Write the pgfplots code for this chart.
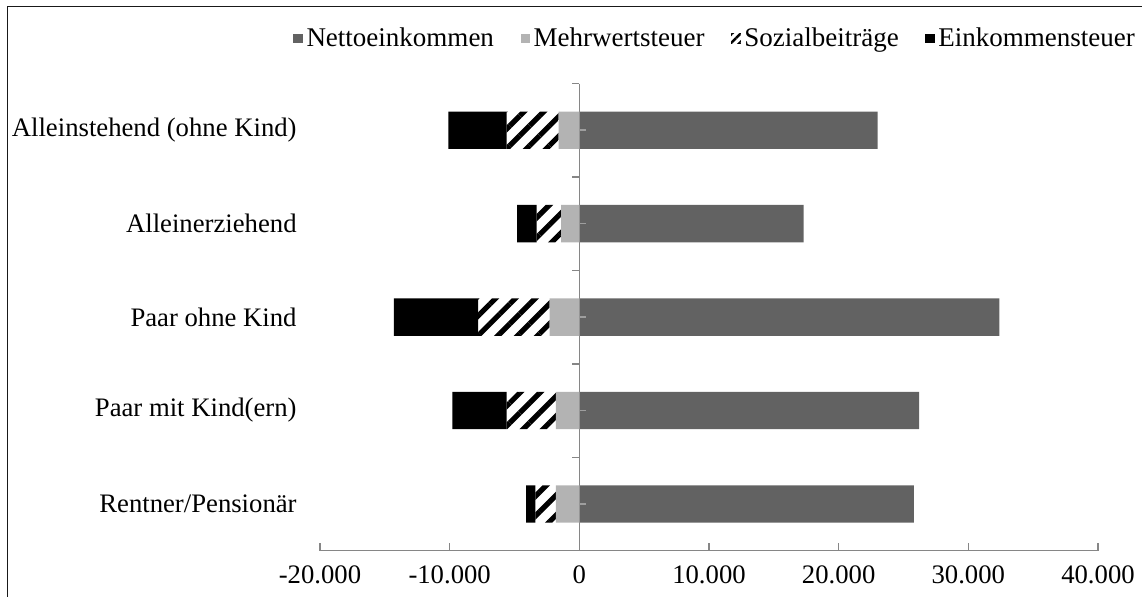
\documentclass[border=0pt]{standalone}
\usepackage{fontspec}
\setmainfont{Liberation Serif}
\usepackage{pgfplots}
\pgfplotsset{compat=1.18}
\usetikzlibrary{patterns.meta}
\definecolor{netto}{HTML}{626262}
\definecolor{mwst}{HTML}{B3B3B3}
\definecolor{axgray}{HTML}{868686}
\newcommand{\chartfont}{\fontsize{13.35}{16}\selectfont}
\newcommand{\legfont}{\fontsize{13.5}{16}\selectfont}
\pgfplotsset{base/.style={scale only axis, width=389pt, height=233.6pt,
  at={(160pt,22.65pt)}, anchor=south west,
  xmin=-20000, xmax=40000, ymin=-0.5, ymax=4.5}}
\begin{document}
\begin{tikzpicture}
\begin{axis}[base, xbar, bar width=0.4,
  axis x line*=bottom, axis y line*=left,
  y axis line style={draw=none},
  x axis line style={axgray, line width=0.75pt},
  xtick={-20000,-10000,0,10000,20000,30000,40000},
  xticklabels={-20.000,-10.000,0,10.000,20.000,30.000,40.000},
  tick align=inside, major tick length=4pt,
  xtick style={axgray, line width=0.75pt},
  ytick={0,1,2,3,4},
  yticklabels={Rentner/Pensionär,Paar mit Kind(ern),Paar ohne Kind,Alleinerziehend,Alleinstehend (ohne Kind)},
  ytick style={draw=none},
  yticklabel style={anchor=east, inner sep=0pt, xshift=-11.5pt},
  xticklabel style={anchor=north, inner sep=0pt, yshift=-7.5pt},
  tick label style={font=\chartfont},
  legend image code/.code={\fill[#1] (0pt,-2.4pt) rectangle (4.8pt,2.4pt);},
  legend columns=4,
  legend style={at={(-0.0347,1.0963)}, anchor=west, draw=none, fill=none,
    font=\legfont, inner sep=0pt,
    nodes={inner sep=0pt},
    /tikz/every odd column/.append style={column sep=1.75pt},
    /tikz/every even column/.append style={column sep=13.3pt}},
]
\addplot[draw=none, fill=netto] coordinates {(23000,4) (17300,3) (32400,2) (26200,1) (25800,0)};
\addlegendentry{Nettoeinkommen}
\addlegendimage{draw=none, fill=mwst}
\addlegendentry{Mehrwertsteuer}
\addlegendimage{draw=none, pattern={Lines[angle=45,distance=3pt,line width=1.2pt]}, pattern color=black}
\addlegendentry{Sozialbeiträge}
\addlegendimage{draw=none, fill=black}
\addlegendentry{Einkommensteuer}
\end{axis}
\begin{axis}[base, xbar stacked, bar width=0.4, hide axis]
\addplot[draw=none, fill=mwst] coordinates {(-1600,4) (-1400,3) (-2300,2) (-1800,1) (-1800,0)};
\addplot[draw=none, pattern={Lines[angle=45,distance=7pt,line width=2.6pt]}, pattern color=black] coordinates {(-4000,4) (-1900,3) (-5500,2) (-3800,1) (-1600,0)};
\addplot[draw=none, fill=black] coordinates {(-4500,4) (-1500,3) (-6500,2) (-4200,1) (-700,0)};
\draw[axgray, line width=0.75pt] (axis cs:0,-0.5) -- (axis cs:0,4.5);
\pgfplotsinvokeforeach{0.5,1.5,2.5,3.5,4.5}{\draw[axgray, line width=0.75pt] (axis cs:0,#1) -- ++(-3.8pt,0pt);}
\pgfplotsinvokeforeach{0,1,2,3,4}{\draw[axgray!80!white, line width=0.75pt] (axis cs:0,#1) -- ++(3.5pt,0pt);}
\end{axis}
\draw[line width=0.8pt, black!90] (3.75pt,-5pt) rectangle (580pt,294.75pt);
\pgfresetboundingbox
\path[use as bounding box] (0,0) rectangle (571pt,298pt);
\end{tikzpicture}
\end{document}
